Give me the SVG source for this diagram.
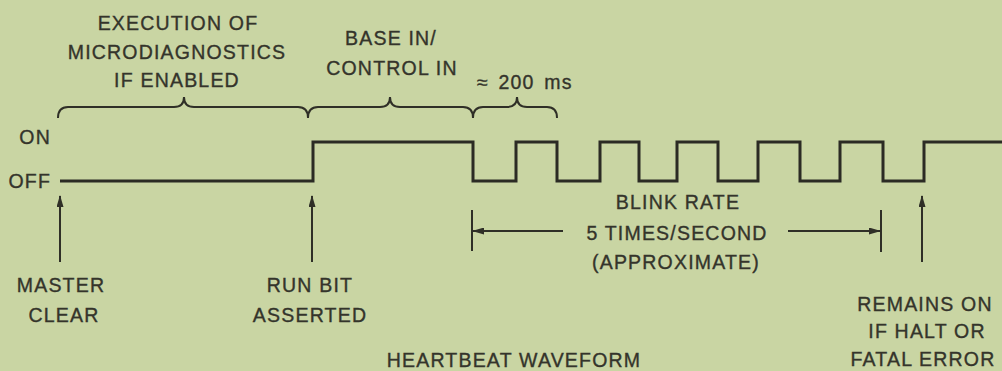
<svg xmlns="http://www.w3.org/2000/svg" width="1002" height="371" viewBox="0 0 1002 371">
<defs>
<style>
.t{font-family:"Liberation Sans",Arial,Helvetica,sans-serif;font-size:19.5px;fill:#34342b;stroke:#34342b;stroke-width:0.35px;letter-spacing:1.2px;text-anchor:middle}
.e{text-anchor:end}
.s{text-anchor:start}
.wave{fill:none;stroke:#2b2b24;stroke-width:3;stroke-linejoin:miter}
.br{fill:none;stroke:#2f2f27;stroke-width:2}
.ln{fill:none;stroke:#2f2f27;stroke-width:2}
.ar{fill:none;stroke:#2f2f27;stroke-width:2;marker-end:url(#ah)}
</style>
<marker id="ah" viewBox="0 0 12 7" refX="11" refY="3.5" markerWidth="12" markerHeight="7" markerUnits="userSpaceOnUse" orient="auto-start-reverse">
<path d="M0,0 L12,3.5 L0,7 z" fill="#2f2f27"/>
</marker>
</defs>
<rect width="1002" height="371" fill="#c9d5a3"/>

<g id="waveform">
<path class="wave" d="M60,181 H313 V142 H473 V181 H516 V142 H557 V181 H600 V142 H639 V181 H677 V142 H718 V181 H758 V142 H800 V181 H840 V142 H883 V181 H924 V142 H1002"/>
</g>

<g id="levels">
<text class="t e" x="51" y="144">ON</text>
<text class="t e" x="51" y="188">OFF</text>
</g>

<g id="microdiag">
<text class="t" x="178" y="30">EXECUTION OF</text>
<text class="t" x="177" y="59">MICRODIAGNOSTICS</text>
<text class="t" x="177" y="87">IF ENABLED</text>
</g>

<g id="basein">
<text class="t" x="391" y="45">BASE IN/</text>
<text class="t" x="392" y="75">CONTROL IN</text>
</g>

<g id="period">
<text class="t s" x="477" y="89" word-spacing="3">≈ 200 ms</text>
</g>

<g id="masterclear">
<text class="t" x="61" y="292">MASTER</text>
<text class="t" x="64" y="322">CLEAR</text>
</g>

<g id="runbit">
<text class="t" x="310" y="292">RUN BIT</text>
<text class="t" x="310" y="322">ASSERTED</text>
</g>

<g id="blinkrate">
<text class="t" x="678" y="209">BLINK RATE</text>
<text class="t" x="677" y="240">5 TIMES/SECOND</text>
<text class="t" x="676" y="269">(APPROXIMATE)</text>
</g>

<g id="remains">
<text class="t" x="925" y="311">REMAINS ON</text>
<text class="t" x="927" y="338">IF HALT OR</text>
<text class="t" x="923" y="366">FATAL ERROR</text>
</g>

<g id="title">
<text class="t" x="514" y="367">HEARTBEAT WAVEFORM</text>
</g>

<g id="connectors">
<path class="br" d="M58,118 Q58,107 68,107 L174,107 Q184,107 184,97 Q184,107 194,107 L298,107 Q308,107 308,118"/>
<path class="br" d="M308,118 Q308,107 318,107 L380,107 Q390,107 390,97 Q390,107 400,107 L463,107 Q473,107 473,118"/>
<path class="br" d="M473,118 Q473,107 483,107 L507,107 Q517,107 517,97 Q517,107 527,107 L547,107 Q557,107 557,118"/>
<line class="ar" x1="60" y1="262" x2="60" y2="196"/>
<line class="ar" x1="312" y1="262" x2="312" y2="196"/>
<line class="ar" x1="922" y1="262" x2="922" y2="196"/>
<line class="ln" x1="472" y1="210" x2="472" y2="251"/>
<line class="ln" x1="881" y1="210" x2="881" y2="252"/>
<line class="ar" x1="563" y1="231" x2="473" y2="231"/>
<line class="ar" x1="788" y1="231" x2="880" y2="231"/>
</g>
</svg>
